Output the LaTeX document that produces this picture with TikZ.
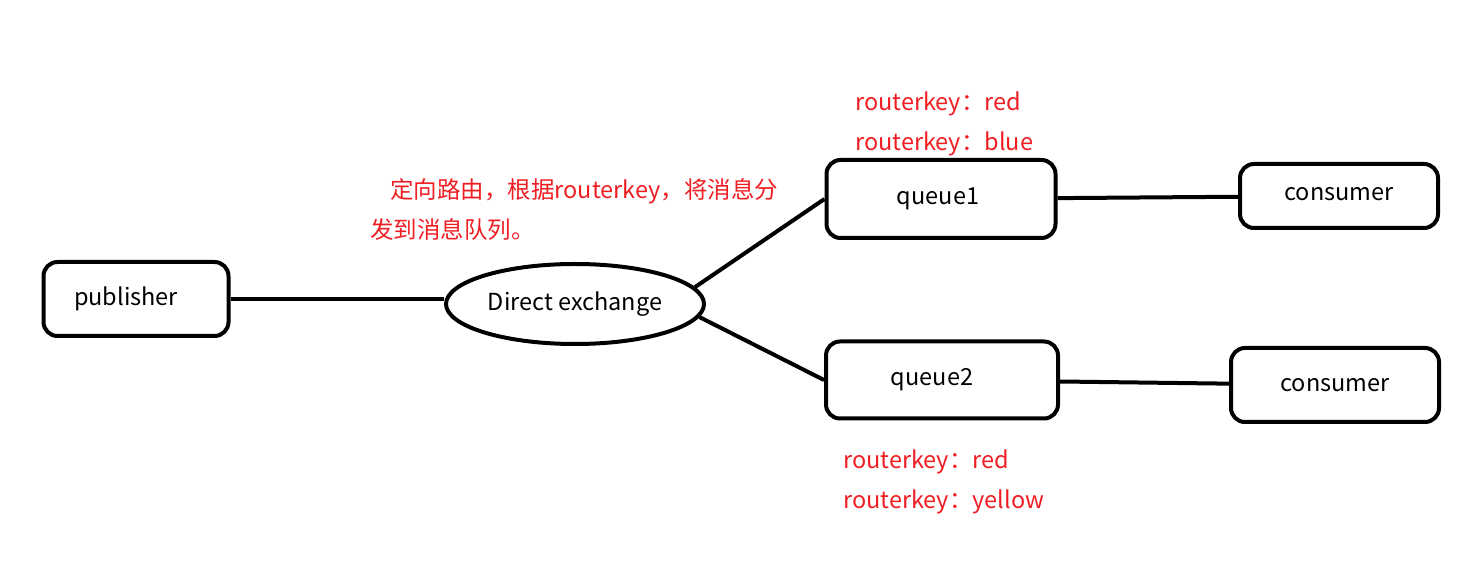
\documentclass[tikz,border=0pt]{standalone}
\usepackage{fontspec}
\setmainfont{Noto Sans CJK SC}
\usetikzlibrary{positioning}
\usetikzlibrary{shapes.geometric}
\definecolor{keyred}{RGB}{240,30,35}
\tikzset{
	box/.style={draw, rectangle, rounded corners=14pt, line width=4pt, inner sep=2pt, font=\fontsize{23.5}{26}\selectfont},
	exchange/.style={draw, ellipse, line width=4pt, inner sep=0pt, minimum width=258pt, minimum height=80pt, font=\fontsize{23.5}{26}\selectfont},
	% red routing notes
	key/.style={anchor=west, inner sep=0pt, text=keyred, align=left, font=\fontsize{23.5}{40}\selectfont},
}

\begin{document}
\begin{tikzpicture}[x=1pt, y=1pt, node distance=100pt]
		\useasboundingbox (0,0) rectangle (1470,568);
		
		\node (publisher) [box, minimum width=185pt, minimum height=74pt] at (136,269) {publisher\hspace*{20pt}};
		
		\node (exch) [exchange, right of=publisher, xshift=339pt, yshift=-5pt] {Direct exchange};
		
		\node (queue1) [box, minimum width=229pt, minimum height=78pt, right of=exch, xshift=266pt, yshift=105pt] {queue1\hspace*{6pt}};
		\node (queue2) [box, minimum width=232pt, minimum height=77pt, below of=queue1, xshift=1pt, yshift=-81pt] {\raisebox{6pt}{queue2}\hspace*{20pt}};
		
		\node (cons1) [box, minimum width=198pt, minimum height=64pt, right of=queue1, xshift=298pt, yshift=3pt] {\raisebox{4pt}{consumer}};
		\node (cons2) [box, minimum width=208pt, minimum height=74pt, right of=queue2, xshift=293pt, yshift=-5pt] {consumer};
		
		\node (note) [key] at (370,358) {\hspace*{20pt}定向路由，根据routerkey，将消息分\\发到消息队列。};
		\node (keys1) [key] at (855,444) {routerkey：red\\routerkey：blue};
		\node (keys2) [key] at (843,86) {routerkey：red\\routerkey：yellow};
		
		\begin{scope}[line width=4pt, black]
			\draw (publisher.east) -- (publisher.east -| exch.west);
			\draw (exch.8) -- (queue1.west);
			\draw (exch.-6) -- (queue2.west);
			\draw (queue1) -- (cons1);
			\draw (queue2) -- (cons2);
		\end{scope}
	\end{tikzpicture}
\end{document}
